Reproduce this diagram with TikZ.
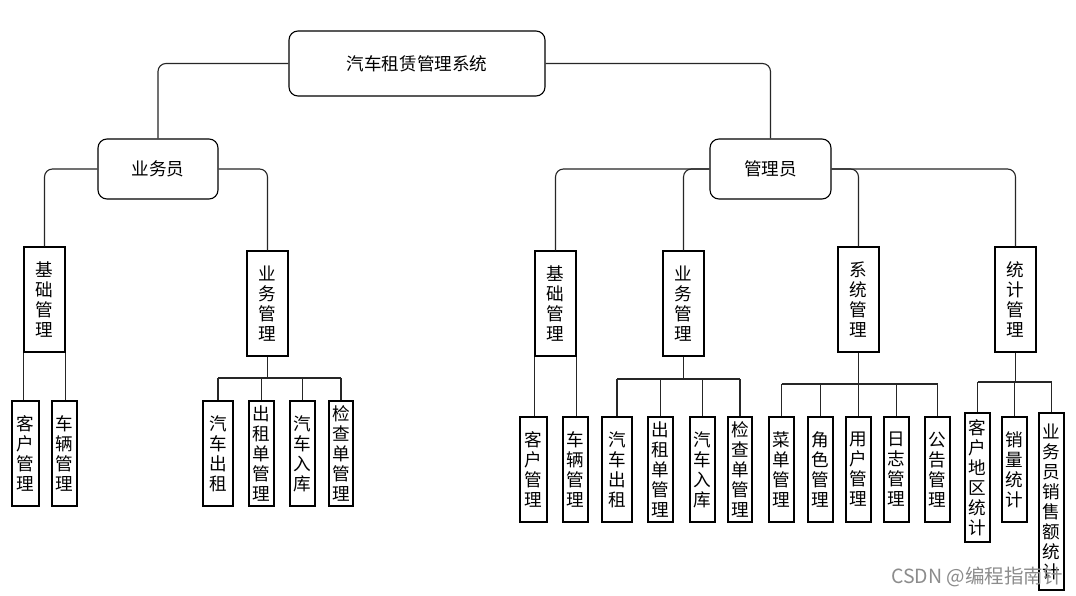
\documentclass[tikz,border=0pt]{standalone}
\usepackage{fontspec}
\newfontfamily\cjk{Noto Sans CJK SC}
\begin{document}
\begin{tikzpicture}[x=1pt,y=-1pt,
  vbox/.style={draw=black, line width=1.1pt, inner sep=0pt, align=center, fill=white,
    font=\cjk\fontsize{17.6}{20}\selectfont},
  rbox/.style={vbox, rounded corners=9pt},
  conn/.style={draw=black!85, line width=1.1pt, rounded corners=8pt},
  bus/.style={draw=black!85, line width=1.1pt},
  wm/.style={text=black!45, font=\cjk\fontsize{19.5}{20}\selectfont, inner sep=0pt}]
\useasboundingbox[fill=white] (0,0) rectangle (1076,596);
\newcommand\mkbox[7][vbox]{%
  \pgfmathsetmacro\bxcx{(#3+#5)/2}\pgfmathsetmacro\bxcy{(#4+#6)/2}%
  \pgfmathsetmacro\bxw{#5-#3}\pgfmathsetmacro\bxh{#6-#4}%
  \node[#1, minimum width=\bxw pt, minimum height=\bxh pt] (#2) at (\bxcx,\bxcy) {#7};}
% top levels
\mkbox[rbox]{root}{289}{31}{545}{96}{汽车租赁管理系统}
\mkbox[rbox]{yw}{98}{139}{218}{199}{业务员}
\mkbox[rbox]{gl}{710}{139}{831}{199}{管理员}
% left parents
\mkbox{jcA}{24}{247}{65}{352}{基\\础\\管\\理}
\mkbox{ygA}{247}{251}{288}{356}{业\\务\\管\\理}
% right parents
\mkbox{jcB}{535}{251}{576}{356}{基\\础\\管\\理}
\mkbox{ygB}{663}{251}{704}{356}{业\\务\\管\\理}
\mkbox{xt}{838}{247}{879}{352}{系\\统\\管\\理}
\mkbox{tj}{995}{247}{1036}{352}{统\\计\\管\\理}
% left children
\mkbox{khA}{12}{401}{39}{506}{客\\户\\管\\理}
\mkbox{clA}{52}{401}{77}{506}{车\\辆\\管\\理}
\mkbox{qcA}{203}{401}{233}{506}{汽\\车\\出\\租}
\mkbox{czA}{249}{401}{274}{506}{出\\租\\单\\管\\理}
\mkbox{rkA}{290}{401}{315}{506}{汽\\车\\入\\库}
\mkbox{jdA}{329}{401}{353}{506}{检\\查\\单\\管\\理}
% right children
\mkbox{khB}{520}{417}{547}{522}{客\\户\\管\\理}
\mkbox{clB}{563}{417}{588}{522}{车\\辆\\管\\理}
\mkbox{qcB}{602}{417}{632}{522}{汽\\车\\出\\租}
\mkbox{czB}{648}{417}{673}{522}{出\\租\\单\\管\\理}
\mkbox{rkB}{690}{417}{715}{522}{汽\\车\\入\\库}
\mkbox{jdB}{728}{417}{752}{522}{检\\查\\单\\管\\理}
\mkbox{cd}{769}{417}{794}{522}{菜\\单\\管\\理}
\mkbox{js}{808}{417}{833}{522}{角\\色\\管\\理}
\mkbox{yh}{846}{417}{871}{522}{用\\户\\管\\理}
\mkbox{rz}{884}{417}{909}{522}{日\\志\\管\\理}
\mkbox{gg}{925}{417}{950}{522}{公\\告\\管\\理}
\mkbox{dq}{965}{413}{990}{542}{客\\户\\地\\区\\统\\计}
\mkbox{xl}{1002}{417}{1027}{522}{销\\量\\统\\计}
\mkbox{xse}{1039}{413}{1064}{590}{业\\务\\员\\销\\售\\额\\统\\计}
% connectors from top levels
\draw[conn] (root.west) -| (yw.north);
\draw[conn] (root.east) -| (gl.north);
\draw[conn] (yw.west) -| (jcA.north);
\draw[conn] (yw.east) -| (ygA.north);
\draw[conn] (gl.west) -| (jcB.north);
\draw[conn] (gl.west) -| (ygB.north);
\draw[conn] (gl.east) -| (xt.north);
\draw[conn] (gl.east) -| (tj.north);
% base management children (edge lines)
\draw[bus] (jcA.south west) -- (jcA.south west |- khA.north);
\draw[bus] (jcA.south east) -- (jcA.south east |- clA.north);
\draw[bus] (jcB.south west) -- (jcB.south west |- khB.north);
\draw[bus] (jcB.south east) -- (jcB.south east |- clB.north);
% buses
\coordinate (busA) at (0,378);
\coordinate (busB) at (0,379);
\coordinate (busC) at (0,384);
\coordinate (busD) at (0,382);
\draw[bus] (ygA.south) -- (ygA.south |- busA);
\draw[bus] (qcA.north |- busA) -- (jdA.north |- busA);
\foreach \c in {qcA,czA,rkA,jdA} \draw[bus] (\c.north) -- (\c.north |- busA);
\draw[bus] (ygB.south) -- (ygB.south |- busB);
\draw[bus] (qcB.north |- busB) -- (jdB.north |- busB);
\foreach \c in {qcB,czB,rkB,jdB} \draw[bus] (\c.north) -- (\c.north |- busB);
\draw[bus] (xt.south) -- (xt.south |- busC);
\draw[bus] (cd.north |- busC) -- (gg.north |- busC);
\foreach \c in {cd,js,yh,rz,gg} \draw[bus] (\c.north) -- (\c.north |- busC);
\draw[bus] (tj.south) -- (tj.south |- busD);
\draw[bus] (dq.north |- busD) -- (xse.north |- busD);
\foreach \c in {dq,xl,xse} \draw[bus] (\c.north) -- (\c.north |- busD);
% watermark
\node[wm] (wmk) at (977,577) {CSDN @编程指南针};
\end{tikzpicture}
\end{document}
